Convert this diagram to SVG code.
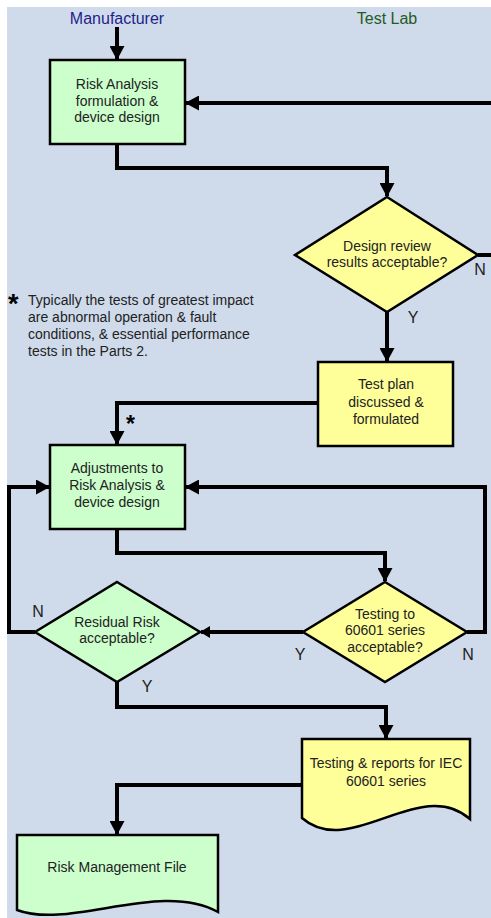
<svg xmlns="http://www.w3.org/2000/svg" width="491" height="918" viewBox="0 0 491 918">
<defs>
<style>
.bg{fill:#cfdbeb}
.g{fill:#ccffcc;stroke:#000;stroke-width:2.5}
.y{fill:#ffff99;stroke:#000;stroke-width:2.5}
.t{font-family:"Liberation Sans",Arial,sans-serif;font-size:14px;fill:#222;text-anchor:middle}
.lbl{font-family:"Liberation Sans",Arial,sans-serif;font-size:16px;fill:#222;text-anchor:middle}
.fn{font-family:"Liberation Sans",Arial,sans-serif;font-size:14px;fill:#222}
.star{font-family:"Liberation Sans",Arial,sans-serif;font-weight:bold;fill:#000}
.c{fill:none;stroke:#000;stroke-width:4;stroke-linejoin:miter}
</style>
<marker id="ah" markerUnits="userSpaceOnUse" markerWidth="14" markerHeight="15" viewBox="0 0 14 15" refX="13" refY="7.5" orient="auto">
<path d="M0,0 L14,7.5 L0,15 z" fill="#000"/>
</marker>
<marker id="ahs" markerUnits="userSpaceOnUse" markerWidth="10" markerHeight="12" viewBox="0 0 10 12" refX="9" refY="6" orient="auto">
<path d="M0,0 L10,6 L0,12 z" fill="#000"/>
</marker>
</defs>
<rect class="bg" x="7" y="7" width="484" height="911"/>
<text class="lbl" x="117" y="24" style="fill:#1f1f8c">Manufacturer</text>
<text class="lbl" x="387" y="24" style="fill:#245a24">Test Lab</text>
<g id="connectors">
<path class="c" d="M117,27 V59" marker-end="url(#ah)"/>
<path class="c" d="M117,144 V168 H387 V196" marker-end="url(#ah)"/>
<path class="c" d="M478,255 H497 V103 H186" marker-end="url(#ah)"/>
<path class="c" d="M387,312 V361" marker-end="url(#ah)"/>
<path class="c" d="M318,403 H117 V444" marker-end="url(#ah)"/>
<path class="c" d="M117,529 V553 H385 V581" marker-end="url(#ah)"/>
<path class="c" d="M467,632 H485 V487 H186" marker-end="url(#ah)"/>
<path class="c" d="M303,632 H201" marker-end="url(#ahs)"/>
<path class="c" d="M35,632 H9 V487 H49" marker-end="url(#ah)"/>
<path class="c" d="M117,682 V707 H386 V738" marker-end="url(#ah)"/>
<path class="c" d="M302,785 H117 V834" marker-end="url(#ah)"/>
<text class="lbl" x="480" y="275">N</text>
<text class="lbl" x="413" y="323">Y</text>
<text class="lbl" x="468" y="660">N</text>
<text class="lbl" x="300" y="660">Y</text>
<text class="lbl" x="38" y="617">N</text>
<text class="lbl" x="147" y="692">Y</text>
<text class="star" x="126" y="432" font-size="23">*</text>
</g>
<g id="risk-analysis">
<rect class="g" x="50" y="60" width="135" height="84"/>
<text class="t" x="117" y="89">Risk Analysis</text>
<text class="t" x="117" y="106">formulation &amp;</text>
<text class="t" x="117" y="122">device design</text>
</g>
<g id="design-review">
<path class="y" d="M387,197 L478,255 L387,312 L295,255 Z"/>
<text class="t" x="387" y="251">Design review</text>
<text class="t" x="387" y="267">results acceptable?</text>
</g>
<g id="footnote">
<text class="star" x="8" y="313" font-size="27">*</text>
<text class="fn" x="28" y="305">Typically the tests of greatest impact</text>
<text class="fn" x="28" y="322">are abnormal operation &amp; fault</text>
<text class="fn" x="28" y="339">conditions, &amp; essential performance</text>
<text class="fn" x="28" y="356">tests in the Parts 2.</text>
</g>
<g id="test-plan">
<rect class="y" x="318" y="362" width="135" height="84"/>
<text class="t" x="386" y="389">Test plan</text>
<text class="t" x="386" y="407">discussed &amp;</text>
<text class="t" x="386" y="424">formulated</text>
</g>
<g id="adjustments">
<rect class="g" x="50" y="445" width="135" height="84"/>
<text class="t" x="117" y="473">Adjustments to</text>
<text class="t" x="117" y="490">Risk Analysis &amp;</text>
<text class="t" x="117" y="507">device design</text>
</g>
<g id="testing-60601">
<path class="y" d="M385,582 L467,632 L385,682 L303,632 Z"/>
<text class="t" x="385" y="619">Testing to</text>
<text class="t" x="385" y="635">60601 series</text>
<text class="t" x="385" y="652">acceptable?</text>
</g>
<g id="residual-risk">
<path class="g" d="M117,582 L200,632 L117,682 L35,632 Z"/>
<text class="t" x="117" y="627">Residual Risk</text>
<text class="t" x="117" y="643">acceptable?</text>
</g>
<g id="testing-reports">
<path class="y" d="M302,739 H470 V819 C420,775 350,860 302,818 Z"/>
<text class="t" x="386" y="768">Testing &amp; reports for IEC</text>
<text class="t" x="386" y="786">60601 series</text>
</g>
<g id="risk-management-file">
<path class="g" d="M17,835 H218 V912 C160,880 70,930 17,910 Z"/>
<text class="t" x="117" y="872">Risk Management File</text>
</g>
</svg>
